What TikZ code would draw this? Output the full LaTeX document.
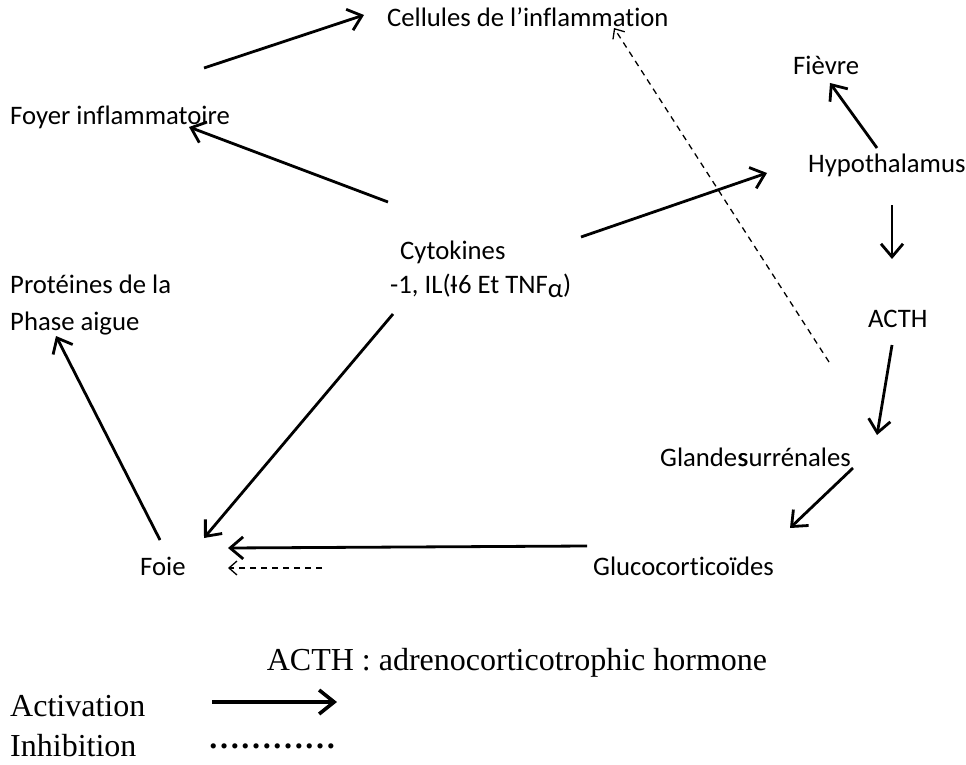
\documentclass[tikz,border=0pt]{standalone}
\usepackage{fontspec}
\setmainfont{Carlito}[Ligatures={NoCommon}]
\newfontfamily\serifff{Liberation Serif}
\usetikzlibrary{arrows.meta}
\tikzset{
  lbl/.style={anchor=west, inner sep=0pt, font=\fontsize{26.7}{32}\selectfont},
  leg/.style={anchor=west, inner sep=0pt, font=\serifff\fontsize{32}{38}\selectfont},
  act/.style={line width=2.8pt, -{Straight Barb[length=13pt,width=22pt,line width=2.8pt]}},
  legact/.style={line width=3.6pt, -{Straight Barb[length=15pt,width=24pt,line width=3.6pt]}},
  inh/.style={line width=1.3pt, dash pattern=on 6pt off 5pt, -{Straight Barb[length=8pt,width=14pt,line width=1.3pt]}}
}
\begin{document}
\begin{tikzpicture}[x=1pt,y=-1pt]
\useasboundingbox (0,0) rectangle (966,765);
% labels
\node[lbl] (cell) at (387,17) {Cellules de l’inflammation};
\node[lbl] (fiev) at (793,65) {Fièvre};
\node[lbl] (foy) at (10,117) {Foyer inflammatoire};
\node[lbl] (hyp) at (808,165) {Hypothalamus};
\node[lbl] (cyt) at (400,252) {Cytokines};
\node[lbl] (cyt2) at (390,286) {-1, IL(I\kern-0.28em-6 Et TNF\raisebox{-0.35ex}{α})};
\node[lbl] (prot) at (10,284) {Protéines de la};
\node[lbl] (phase) at (10,324) {Phase aigue};
\node[lbl] (acth) at (868,319) {ACTH};
\node[lbl] (gland) at (660,457) {Glandes\kern-0.36em surrénales};
\node[lbl] (foie) at (140,566) {Foie};
\node[lbl] (gluco) at (593,566) {Glucocorticoïdes};
\node[anchor=center, inner sep=0pt, font=\serifff\fontsize{32}{38}\selectfont] (note) at (517,663) {ACTH : adrenocorticotrophic hormone};
\node[leg] (lact) at (10,706) {Activation};
\node[leg] (linh) at (10,746) {Inhibition};
% connector end points
\coordinate (foy-s) at (204,68);
\coordinate (cell-t) at (364,15);
\coordinate (cyt-a) at (388,202);
\coordinate (foy-t) at (189,127);
\coordinate (cyt-b) at (581,237);
\coordinate (hyp-t) at (767,173);
\coordinate (hyp-a) at (877,148);
\coordinate (fiev-t) at (830,83);
\coordinate (hyp-b) at (892,205);
\coordinate (acth-t) at (892,259);
\coordinate (acth-s) at (892,345);
\coordinate (gland-t) at (877,435);
\coordinate (gland-s) at (853,468);
\coordinate (gluco-t) at (790,528);
\coordinate (gluco-s) at (587,546);
\coordinate (foie-t) at (228,548);
\coordinate (cyt-c) at (393,314);
\coordinate (foie-t2) at (204,538);
\coordinate (foie-s) at (160,540);
\coordinate (prot-t) at (56,336);
\coordinate (gluco-d) at (322,568);
\coordinate (foie-td) at (228,568);
\coordinate (gland-d) at (829,362);
\coordinate (cell-td) at (614,28);
\coordinate (la-s) at (212,702);
\coordinate (la-t) at (337,702);
% activation connectors
\draw[act] (foy-s) -- (cell-t);
\draw[act] (cyt-a) -- (foy-t);
\draw[act] (cyt-b) -- (hyp-t);
\draw[act] (hyp-a) -- (fiev-t);
\draw[act] (hyp-b) -- (acth-t);
\draw[act] (acth-s) -- (gland-t);
\draw[act] (gland-s) -- (gluco-t);
\draw[act] (gluco-s) -- (foie-t);
\draw[act] (cyt-c) -- (foie-t2);
\draw[act] (foie-s) -- (prot-t);
% inhibition connectors
\draw[inh] (gluco-d) -- (foie-td);
\draw[inh] (gland-d) -- (cell-td);
% legend
\draw[legact] (la-s) -- (la-t);
\node[anchor=west, inner sep=0pt, font=\serifff\bfseries\fontsize{32}{38}\selectfont] (ldots) at (208,746) {…………};
\end{tikzpicture}
\end{document}
